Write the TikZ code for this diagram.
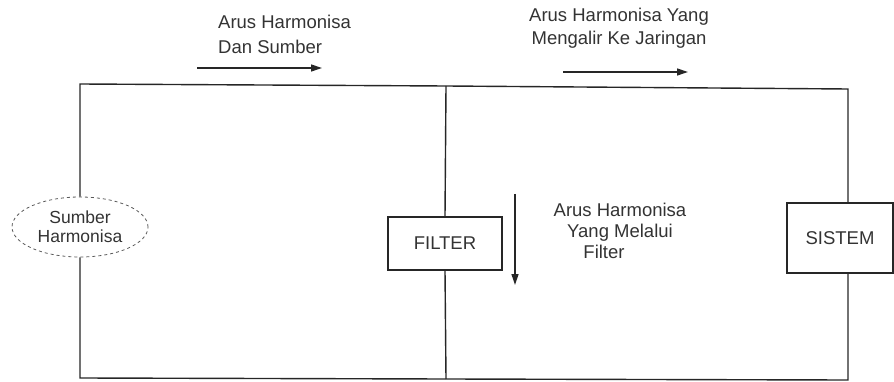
\documentclass[tikz,border=0pt]{standalone}
\usepackage{fontspec}
\setmainfont{Liberation Sans}
\usetikzlibrary{arrows.meta,shapes.geometric}

\begin{document}
\begin{tikzpicture}[x=1pt,y=-1pt,
  wire/.style={line width=1.4pt,black!85},
  flow/.style={line width=1.3pt,black!85,-{Triangle[length=11pt,width=7pt]}},
  blok/.style={draw,line width=1.3pt,black!85,font=\fontsize{18.5}{22}\selectfont,text=black!80},
  ket/.style={align=center,text=black!80,inner sep=0pt}]
\useasboundingbox (0,0) rectangle (894,382);
% sumber, filter, sistem
\node[draw,dashed,ellipse,line width=0.8pt,black!65,minimum width=136pt,minimum height=60pt,inner sep=0pt,align=center,
  font=\fontsize{17.5}{19}\selectfont,text=black!80] (sumber) at (80,227) {Sumber\\Harmonisa};
\node[blok,minimum width=114pt,minimum height=53pt] (filter) at (445,243.5) {FILTER};
\node[blok,minimum width=106pt,minimum height=70pt] (sistem) at (840,238) {SISTEM};
\coordinate (kiriatas) at (80,84);
\coordinate (tengahatas) at (446,86);
\coordinate (kananatas) at (848,89);
\coordinate (kiribawah) at (80,378);
\coordinate (tengahbawah) at (446,379);
\coordinate (kananbawah) at (848,380);
% rangkaian
\draw[wire] (sumber.south) -- (kiribawah) -- (tengahbawah) -- (kananbawah) -- (sistem.south -| kananbawah);
\draw[wire] (sumber.north) -- (kiriatas) -- (tengahatas) -- (kananatas) -- (sistem.north -| kananatas);
\draw[wire] (tengahatas) -- (filter.north);
\draw[wire] (filter.south) -- (tengahbawah);
% arus
\node[ket,align=left,anchor=west,font=\fontsize{18.5}{25}\selectfont] (ket1) at (218,34.5) {Arus Harmonisa\\Dan Sumber};
\coordinate (a1) at (197,68);
\coordinate (b1) at (322,68);
\draw[flow] (a1) -- (b1);
\node[ket,font=\fontsize{18.5}{23}\selectfont] (ket2) at (619,28.5) {Arus Harmonisa Yang\\Mengalir Ke Jaringan};
\coordinate (a2) at (563,72);
\coordinate (b2) at (688,72);
\draw[flow] (a2) -- (b2);
\node[ket,font=\fontsize{18.5}{21}\selectfont] (ket3) at (620,230.5) {Arus Harmonisa\\Yang Melalui\\Filter\hspace*{32pt}};
\coordinate (a3) at (515,194);
\coordinate (b3) at (515,285);
\draw[flow] (a3) -- (b3);
\end{tikzpicture}
\end{document}
